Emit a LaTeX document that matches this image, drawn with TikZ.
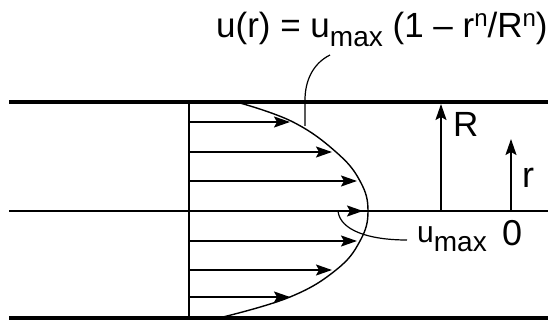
\documentclass[tikz,border=0pt]{standalone}
\usepackage{fontspec}
\setmainfont{Liberation Sans}
\usepackage{tikz}
\usetikzlibrary{arrows.meta,positioning,calc}
\newcommand{\lowsub}[1]{\raisebox{-9pt}{\fontsize{28pt}{28pt}\selectfont #1}}
\newcommand{\highsup}[1]{\raisebox{11pt}{\fontsize{24pt}{24pt}\selectfont #1}}
\tikzset{
  % pipe wall
  wall/.style={line width=4pt},
  % centerline and inlet line
  axisline/.style={line width=1.8pt},
  % velocity arrow
  velarrow/.style={line width=1.9pt, -{Stealth[length=16pt,width=11pt,inset=3pt]}},
  % velocity profile
  profile/.style={line width=1.4pt},
  % leader line
  leader/.style={line width=1.2pt},
  % text label
  lbl/.style={inner sep=0pt, anchor=base west, font=\fontsize{#1}{#1}\selectfont},
  lbl/.default={35pt},
}

\begin{document}
\begin{tikzpicture}[x=1pt,y=-1pt]
  \useasboundingbox (0,0) rectangle (558,321);
  % walls and centerline
  \draw[wall] (9,102) -- (548,102);
  \draw[wall] (9,318) -- (548,318);
  \draw[axisline] (9,211) -- (548,211);
  % inlet line
  \coordinate (inT) at (189,101);
  \coordinate (inB) at (189,318);
  \draw[axisline] (inT) -- (inB);
  % velocity arrows
  \foreach \y/\xt in {122/290,152/332,181/357,211/363,241/357,270/332,297/290}{
    \coordinate (a\y) at (189,\y);
    \coordinate (t\y) at (\xt,\y);
    \draw[velarrow] (a\y) -- (t\y);
  }
  % profile curve
  \draw[profile] plot[smooth, tension=0.7] coordinates
    {(240,103) (293,122) (336,152) (360,181) (368,211) (360,241) (336,270) (290,297) (223,317)};
  % radius arrows
  \coordinate (Rb) at (441,211);
  \coordinate (Rt) at (441,104);
  \draw[velarrow] (Rb) -- (Rt);
  \coordinate (rb) at (511,211);
  \coordinate (rt) at (511,139);
  \draw[velarrow] (rb) -- (rt);
  \node[lbl=35pt] (Rlabel) at (453,137) {R};
  \node[lbl=36pt] (rlabel) at (522,188) {r};
  \node[lbl=36pt] (zero) at (502,245) {0};
  % labels with leaders
  \node[lbl] (formula) at (216,38) {u(r) = u\lowsub{max} (1 – r\highsup{n}/R\highsup{n})};
  \node[lbl=30pt] (umax) at (417,243) {u\lowsub{max}};
  \coordinate (fhook) at (330,55);
  \coordinate (fend) at (305,126);
  \draw[leader] (fhook) .. controls (312,64) and (305,82) .. (305,100) -- (fend);
  \coordinate (mstart) at (338,211);
  \coordinate (mend) at (407,240);
  \draw[leader] (mstart) .. controls (340,230) and (368,240) .. (mend);
\end{tikzpicture}
\end{document}
